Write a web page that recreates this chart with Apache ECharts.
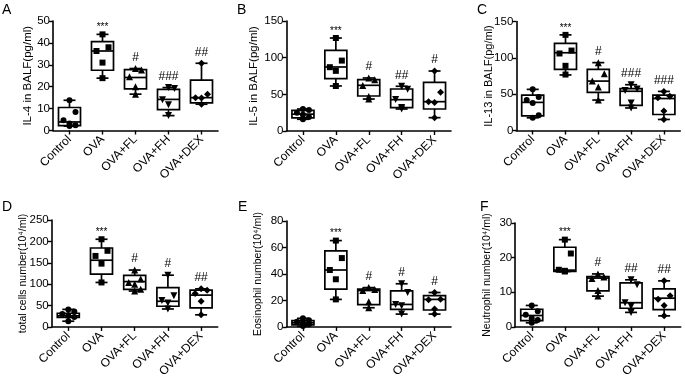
<!DOCTYPE html>
<html><head><meta charset="utf-8">
<script src="https://cdn.jsdelivr.net/npm/echarts@6/dist/echarts.min.js"></script>
<style>html,body{margin:0;padding:0;background:#fff}#c{width:685px;height:380px}</style>
</head><body><div id="c"></div>
<script>
const categories = ['Control', 'OVA', 'OVA+FL', 'OVA+FH', 'OVA+DEX'];

// box stats: [min, Q1, median, Q3, max]
const il4Box = [[2.0, 2.2, 3.9, 10.5, 13.8], [23.9, 27.5, 36.3, 40.6, 43.9], [16.6, 19.0, 24.2, 27.8, 28.3], [6.8, 9.5, 14.2, 18.8, 19.6], [12.0, 12.6, 15.0, 23.0, 30.7]];
const il4Points = [[13.8, 8.5, 4.7, 3.2, 2.4, 2.0], [43.9, 38.0, 36.3, 31.0, 23.9], [28.3, 27.6, 24.5, 20.0, 16.6], [19.6, 19.2, 14.0, 11.8, 6.8], [30.7, 16.5, 15.0, 14.8, 12.0]];
const il4Sig = ['', '***', '#', '###', '##'];

const il5Box = [[16.0, 18.0, 23.0, 28.0, 30.0], [61.4, 71.4, 87.3, 110.0, 126.8], [43.6, 47.7, 62.3, 70.0, 72.3], [30.0, 31.8, 42.7, 57.3, 61.0], [18.2, 30.0, 40.0, 66.4, 81.8]];
const il5Points = [[30.0, 28.5, 25.0, 22.0, 19.0, 16.0], [126.8, 96.0, 87.0, 82.0, 61.4], [72.3, 70.0, 62.0, 47.0, 43.6], [61.0, 57.0, 43.0, 32.0, 30.0], [81.8, 53.0, 40.0, 39.0, 18.2]];
const il5Sig = ['', '***', '#', '##', '#'];

const il13Box = [[17.5, 20.2, 38.7, 48.8, 56.6], [76.4, 84.2, 107.0, 120.0, 131.6], [41.9, 52.5, 68.0, 84.2, 93.4], [31.0, 34.5, 54.0, 57.5, 63.0], [15.2, 22.0, 44.0, 48.8, 53.8]];
const il13Points = [[56.6, 46.0, 42.0, 38.0, 21.0, 17.5], [131.6, 110.0, 106.0, 89.0, 77.0], [93.4, 78.0, 68.0, 60.0, 41.9], [63.0, 57.0, 55.0, 38.0, 31.0], [53.8, 47.0, 45.0, 27.0, 15.2]];
const il13Sig = ['', '***', '#', '###', '###'];

const totalBox = [[13.4, 22.3, 26.0, 32.0, 41.0], [104.0, 123.5, 156.0, 184.5, 205.0], [84.0, 88.0, 106.0, 120.5, 133.0], [42.0, 48.4, 60.0, 92.0, 121.0], [28.3, 44.6, 74.4, 86.3, 89.0]];
const totalPoints = [[41.0, 36.0, 30.0, 26.0, 23.0, 13.4], [205.0, 178.0, 166.0, 148.0, 104.0], [133.0, 112.0, 104.0, 100.0, 88.0, 84.0], [121.0, 73.0, 62.0, 56.0, 42.0], [89.0, 86.0, 78.0, 60.0, 28.3]];
const totalSig = ['', '***', '#', '#', '##'];

const eosBox = [[0.5, 1.5, 3.1, 4.8, 6.5], [20.8, 28.5, 43.0, 57.5, 65.2], [14.5, 16.9, 27.5, 28.5, 29.7], [9.7, 13.3, 17.0, 27.3, 32.6], [9.7, 12.8, 20.8, 23.7, 26.0]];
const eosPoints = [[6.5, 5.0, 4.0, 3.0, 2.0, 0.8], [65.2, 52.0, 43.0, 36.0, 20.8], [29.7, 28.2, 27.5, 19.0, 14.5], [32.6, 26.0, 17.0, 16.0, 9.7], [26.0, 21.0, 20.5, 13.5, 9.7]];
const eosSig = ['', '***', '#', '#', '#'];

const neuBox = [[1.2, 1.8, 3.3, 5.1, 6.2], [16.0, 16.0, 16.4, 23.0, 25.2], [8.9, 10.4, 14.1, 14.5, 15.3], [4.2, 5.4, 7.0, 12.7, 13.6], [3.2, 5.0, 8.3, 11.0, 13.3]];
const neuPoints = [[6.2, 4.5, 3.5, 2.5, 2.0, 1.2], [25.2, 21.2, 16.5, 16.2, 16.0], [15.3, 14.4, 14.0, 10.5, 8.9], [13.6, 12.2, 7.0, 6.0, 4.2], [13.3, 9.0, 8.0, 6.2, 3.2]];
const neuSig = ['', '***', '#', '##', '##'];

const panels = [
  {letter: 'A', name: 'IL-4 in BALF(pg/ml)', max: 50, interval: 10, box: il4Box, points: il4Points, sig: il4Sig,
   grid: {left: 53, top: 21, width: 165, height: 109.5}, lpos: [2, 3], nameGap: 19, nameSize: 11.5},
  {letter: 'B', name: 'IL-5 in BALF(pg/ml)', max: 150, interval: 50, box: il5Box, points: il5Points, sig: il5Sig,
   grid: {left: 286.5, top: 21, width: 164.5, height: 110}, lpos: [237, 3], nameGap: 27, nameSize: 11.5},
  {letter: 'C', name: 'IL-13 in BALF(pg/ml)', max: 150, interval: 50, box: il13Box, points: il13Points, sig: il13Sig,
   grid: {left: 516.3, top: 21.5, width: 164, height: 109}, lpos: [477, 3], nameGap: 22, nameSize: 11},
  {letter: 'D', name: 'total cells number(10\u2074/ml)', max: 250, interval: 50, box: totalBox, points: totalPoints, sig: totalSig,
   grid: {left: 51.7, top: 220, width: 166, height: 112}, lpos: [2, 200], nameGap: 23, nameSize: 10.5},
  {letter: 'E', name: 'Eosinophil number(10\u2074/ml)', max: 80, interval: 20, box: eosBox, points: eosPoints, sig: eosSig,
   grid: {left: 286.5, top: 221, width: 164.5, height: 110}, lpos: [238, 200], nameGap: 23, nameSize: 10.5},
  {letter: 'F', name: 'Neutrophil number(10\u2074/ml)', max: 30, interval: 10, box: neuBox, points: neuPoints, sig: neuSig,
   grid: {left: 515.2, top: 223, width: 165.5, height: 110.5}, lpos: [480, 200], nameGap: 23, nameSize: 10.5}
];

const FONT = '"Liberation Sans", Arial, sans-serif';
const symbols = ['circle', 'rect', 'triangle', 'triangle', 'diamond'];
const symRot = [0, 0, 0, 180, 0];
const symSize = [6, 6, 7, 7, 7];
const jitter = [6, -6, 0, 6, -6, 0];

const grids = [], xAxes = [], yAxes = [], series = [], titles = [];

panels.forEach((p, k) => {
  grids.push(Object.assign({containLabel: false}, p.grid));
  titles.push({text: p.letter, left: p.lpos[0], top: p.lpos[1], padding: 0,
    textStyle: {fontFamily: FONT, fontSize: 14, fontWeight: 'normal', color: '#000'}});
  xAxes.push({
    type: 'category', gridIndex: k, data: categories, boundaryGap: true,
    axisLine: {lineStyle: {color: '#000', width: 1.6}},
    axisTick: {show: true, alignWithLabel: true, length: 4, lineStyle: {color: '#000', width: 1.4}},
    axisLabel: {rotate: 45, interval: 0, color: '#000', fontFamily: FONT, fontSize: 12, margin: 7},
    splitLine: {show: false}
  });
  yAxes.push({
    type: 'value', gridIndex: k, min: 0, max: p.max, interval: p.interval,
    name: p.name, nameLocation: 'middle', nameGap: p.nameGap, nameMoveOverlap: false,
    nameTextStyle: {color: '#000', fontFamily: FONT, fontSize: p.nameSize},
    axisLine: {show: true, lineStyle: {color: '#000', width: 1.6}},
    axisTick: {show: true, length: 4, lineStyle: {color: '#000', width: 1.4}},
    axisLabel: {color: '#000', fontFamily: FONT, fontSize: 11.5, margin: 3},
    splitLine: {show: false}
  });
  const sig = p.sig;
  series.push({
    type: 'custom', xAxisIndex: k, yAxisIndex: k, z: 2,
    data: p.box.map((b, i) => [i].concat(b)),
    encode: {x: 0, y: [1, 2, 3, 4, 5]},
    renderItem: function (params, api) {
      const i = api.value(0);
      const pMin = api.coord([i, api.value(1)]);
      const pQ1 = api.coord([i, api.value(2)]);
      const pMd = api.coord([i, api.value(3)]);
      const pQ3 = api.coord([i, api.value(4)]);
      const pMax = api.coord([i, api.value(5)]);
      const x = pMin[0], hw = 11, cw = 6;
      const st = {stroke: '#000', lineWidth: 1.7, fill: null};
      const children = [
        {type: 'line', shape: {x1: x, y1: pMin[1], x2: x, y2: pMax[1]}, style: st},
        {type: 'line', shape: {x1: x - cw, y1: pMin[1], x2: x + cw, y2: pMin[1]}, style: st},
        {type: 'line', shape: {x1: x - cw, y1: pMax[1], x2: x + cw, y2: pMax[1]}, style: st},
        {type: 'rect', shape: {x: x - hw, y: pQ3[1], width: 2 * hw, height: Math.max(pQ1[1] - pQ3[1], 0.5)},
         style: {stroke: '#000', lineWidth: 1.7, fill: '#fff'}},
        {type: 'line', shape: {x1: x - hw, y1: pMd[1], x2: x + hw, y2: pMd[1]}, style: st}
      ];
      const s = sig[params.dataIndex];
      if (s) {
        const star = s.indexOf('*') >= 0;
        children.push({type: 'text', x: x, y: pMax[1] - (star ? 2 : 5),
          style: {text: s, align: 'center', verticalAlign: 'bottom', fill: '#000',
            font: (star ? '10px ' : '12px ') + FONT}});
      }
      return {type: 'group', children: children};
    }
  });
  const pts = [];
  p.points.forEach((arr, i) => {
    const n = arr.length;
    arr.forEach((v, j) => {
      let dx = 0;
      if (j > 0 && j < n - 1) dx = jitter[(j - 1) % jitter.length];
      pts.push({value: [i, v], symbol: symbols[i], symbolRotate: symRot[i], symbolSize: symSize[i],
        symbolOffset: [dx, 0]});
    });
  });
  series.push({
    type: 'scatter', xAxisIndex: k, yAxisIndex: k, z: 5, data: pts,
    itemStyle: {color: '#000', opacity: 1}, emphasis: {disabled: true}, silent: true
  });
});

const chart = echarts.init(document.getElementById('c'), null, {renderer: 'canvas'});
chart.setOption({
  animation: false, backgroundColor: '#fff',
  title: titles, grid: grids, xAxis: xAxes, yAxis: yAxes, series: series
});
</script></body></html>
